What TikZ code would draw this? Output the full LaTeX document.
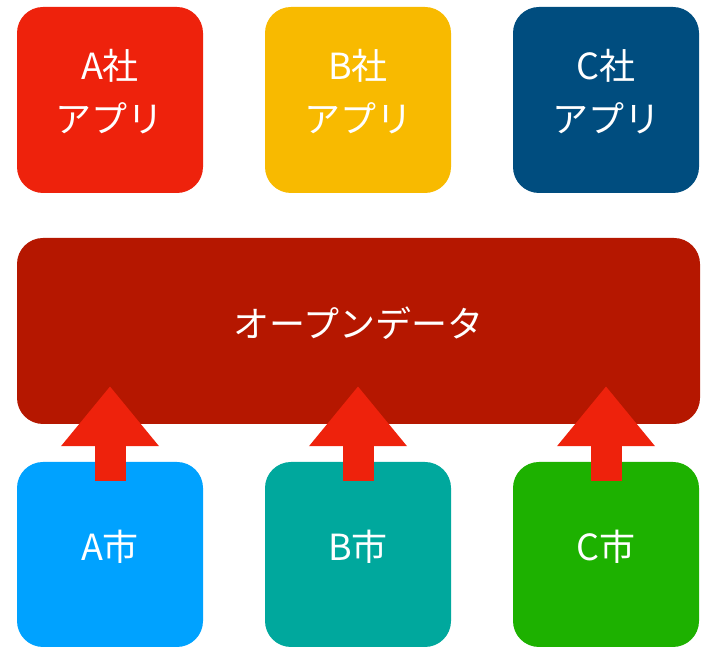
\documentclass[tikz,border=0pt]{standalone}
\usepackage{fontspec}
\setmainfont{Noto Sans CJK JP}
\usetikzlibrary{arrows.meta,positioning}
\definecolor{keyred}{HTML}{EE220C}
\definecolor{keyyellow}{HTML}{F8BA00}
\definecolor{keynavy}{HTML}{004D7F}
\definecolor{keydarkred}{HTML}{B51700}
\definecolor{keyblue}{HTML}{00A2FF}
\definecolor{keyteal}{HTML}{00A89D}
\definecolor{keygreen}{HTML}{1DB100}
\tikzset{
  tile/.style={rounded corners=26pt, minimum width=186pt, minimum height=186pt, inner sep=0pt},
  tiletext/.style={text=white, align=center, font=\fontsize{36}{53}\selectfont},
  uparrow/.style={draw=keyred, line width=31pt, -{Triangle[length=60pt,width=94pt]}}
}
\begin{document}
\begin{tikzpicture}[x=1pt,y=1pt]
  \useasboundingbox (0,0) rectangle (705,647);
  % apps
  \node[tile, fill=keyred] (appA) at (110,547) {};
  \node[tile, fill=keyyellow] (appB) at (358,547) {};
  \node[tile, fill=keynavy] (appC) at (606,547) {};
  \node[tiletext] (appAtext) at ([yshift=8pt]appA.center) {A社\\アプリ};
  \node[tiletext] (appBtext) at ([yshift=8pt]appB.center) {B社\\アプリ};
  \node[tiletext] (appCtext) at ([yshift=8pt]appC.center) {C社\\アプリ};
  % open data
  \node[tile, fill=keydarkred, minimum width=683pt] (openData) at (358.5,316) {};
  \node[tiletext] (openDatatext) at ([yshift=8pt]openData.center) {オープンデータ};
  % cities
  \node[tile, fill=keyblue, minimum height=185pt] (cityA) at (110,92.5) {};
  \node[tile, fill=keyteal, minimum height=185pt] (cityB) at (358,92.5) {};
  \node[tile, fill=keygreen, minimum height=185pt] (cityC) at (606,92.5) {};
  \node[tiletext] (cityAtext) at ([yshift=8pt]cityA.center) {A市};
  \node[tiletext] (cityBtext) at ([yshift=8pt]cityB.center) {B市};
  \node[tiletext] (cityCtext) at ([yshift=8pt]cityC.center) {C市};
  % arrows
  \draw[uparrow] ([yshift=-19pt]cityA.north) -- ([yshift=38pt]openData.south -| cityA.north);
  \draw[uparrow] ([yshift=-19pt]cityB.north) -- ([yshift=38pt]openData.south -| cityB.north);
  \draw[uparrow] ([yshift=-19pt]cityC.north) -- ([yshift=38pt]openData.south -| cityC.north);
\end{tikzpicture}
\end{document}
